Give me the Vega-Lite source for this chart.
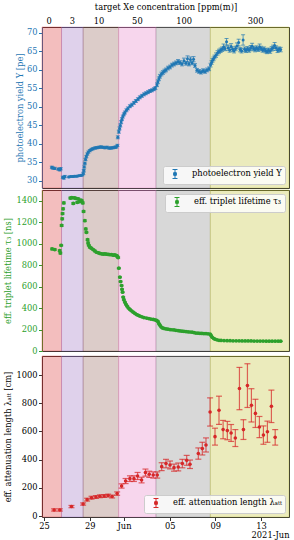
{
"$schema": "https://vega.github.io/schema/vega-lite/v6.json",
"padding": {"left": 3, "right": 4, "top": 2, "bottom": 1},
"spacing": 0,
"config": {
  "font": "DejaVu Serif",
  "view": {"stroke": null},
  "axis": {"zindex": 1, "grid": false, "labelFontSize": 8.3, "titleFontSize": 8.3, "titleFontWeight": "normal", "labelColor": "#000", "titleColor": "#000", "tickColor": "#333", "domainColor": "#333", "tickSize": 3.5, "labelPadding": 1.5, "titlePadding": 3},
  "legend": {"title": null, "offset": 4, "fillColor": "rgba(255,255,255,0.8)", "strokeColor": "#cccccc", "cornerRadius": 2, "padding": 3, "labelFontSize": 8.3, "labelFont": "DejaVu Serif", "labelColor": "#000", "symbolType": "M-0.55,-1H0.55M0,-1V1M-0.55,1H0.55M-0.3,-0.3H0.3V0.3H-0.3Z", "symbolSize": 81, "symbolStrokeWidth": 1, "symbolOffset": 4, "labelOffset": 12}
},
"resolve": {"scale": {"color": "independent"}, "legend": {"color": "independent"}},
"datasets": {
  "bands": [
    {"conc": "0", "start": -0.18, "end": 1.53},
    {"conc": "3", "start": 1.53, "end": 3.42},
    {"conc": "10", "start": 3.42, "end": 6.53},
    {"conc": "50", "start": 6.53, "end": 9.8},
    {"conc": "100", "start": 9.8, "end": 14.56},
    {"conc": "300", "start": 14.56, "end": 21.45}
  ],
  "pe": [
    {"d":0.68,"v":33.7,"e":0.3},{"d":0.76,"v":33.5,"e":0.3},{"d":0.94,"v":33.4,"e":0.3},{"d":1.25,"v":33.2,"e":0.3},{"d":1.38,"v":33.0,"e":0.3},{"d":1.46,"v":33.3,"e":0.3},{"d":1.64,"v":31.0,"e":0.3},{"d":1.73,"v":30.8,"e":0.3},{"d":1.82,"v":31.2,"e":0.3},{"d":2.17,"v":31.1,"e":0.2},{"d":2.34,"v":31.2,"e":0.2},{"d":2.52,"v":31.2,"e":0.2},{"d":2.69,"v":31.3,"e":0.2},{"d":2.87,"v":31.3,"e":0.2},{"d":3.04,"v":31.4,"e":0.2},{"d":3.22,"v":31.5,"e":0.2},{"d":3.35,"v":31.6,"e":0.2},
    {"d":3.44,"v":32.0,"e":0.3},{"d":3.48,"v":32.8,"e":0.3},{"d":3.52,"v":33.8,"e":0.3},{"d":3.57,"v":34.8,"e":0.3},{"d":3.63,"v":35.8,"e":0.3},{"d":3.70,"v":36.6,"e":0.3},{"d":3.79,"v":37.3,"e":0.3},{"d":3.88,"v":37.8,"e":0.3},{"d":4.01,"v":38.2,"e":0.3},{"d":4.14,"v":38.5,"e":0.3},{"d":4.27,"v":38.7,"e":0.3},{"d":4.45,"v":38.9,"e":0.3},{"d":4.62,"v":39.0,"e":0.3},{"d":4.80,"v":39.1,"e":0.3},{"d":4.97,"v":39.2,"e":0.3},{"d":5.15,"v":39.1,"e":0.3},{"d":5.33,"v":39.0,"e":0.3},{"d":5.50,"v":39.1,"e":0.3},{"d":5.68,"v":38.9,"e":0.3},{"d":5.85,"v":38.9,"e":0.3},{"d":6.03,"v":39.0,"e":0.3},{"d":6.20,"v":39.1,"e":0.3},{"d":6.33,"v":39.2,"e":0.3},{"d":6.42,"v":39.6,"e":0.3},
    {"d":6.46,"v":41.8,"e":0.4},{"d":6.55,"v":43.3,"e":0.4},{"d":6.61,"v":44.2,"e":0.4},{"d":6.68,"v":45.0,"e":0.4},{"d":6.75,"v":45.9,"e":0.4},{"d":6.82,"v":46.7,"e":0.4},{"d":6.90,"v":47.4,"e":0.4},{"d":6.99,"v":48.0,"e":0.4},{"d":7.08,"v":48.5,"e":0.4},{"d":7.21,"v":49.1,"e":0.4},{"d":7.34,"v":49.6,"e":0.4},{"d":7.52,"v":50.2,"e":0.4},{"d":7.69,"v":50.6,"e":0.4},{"d":7.87,"v":51.1,"e":0.4},{"d":8.04,"v":51.6,"e":0.4},{"d":8.22,"v":52.1,"e":0.4},{"d":8.39,"v":52.6,"e":0.4},{"d":8.57,"v":53.0,"e":0.4},{"d":8.75,"v":53.4,"e":0.4},{"d":8.92,"v":53.7,"e":0.4},{"d":9.10,"v":54.0,"e":0.4},{"d":9.27,"v":54.3,"e":0.4},{"d":9.45,"v":54.5,"e":0.4},{"d":9.62,"v":54.8,"e":0.4},{"d":9.75,"v":55.1,"e":0.4},
    {"d":9.89,"v":56.0,"e":0.5},{"d":9.97,"v":56.8,"e":0.5},{"d":10.06,"v":57.6,"e":0.5},{"d":10.15,"v":58.3,"e":0.5},{"d":10.28,"v":58.9,"e":0.5},{"d":10.41,"v":59.3,"e":0.5},{"d":10.54,"v":59.7,"e":0.5},{"d":10.68,"v":60.0,"e":0.5},{"d":10.85,"v":60.5,"e":0.5},{"d":11.03,"v":60.8,"e":0.5},{"d":11.20,"v":61.3,"e":0.5},{"d":11.38,"v":61.6,"e":0.5},{"d":11.55,"v":61.9,"e":0.5},{"d":11.73,"v":62.2,"e":0.6},{"d":11.90,"v":62.0,"e":0.5},{"d":12.08,"v":61.6,"e":0.5},{"d":12.25,"v":62.5,"e":0.7},{"d":12.43,"v":61.8,"e":0.5},{"d":12.56,"v":63.0,"e":0.8},{"d":12.69,"v":61.6,"e":0.5},{"d":12.82,"v":62.8,"e":0.7},{"d":12.96,"v":61.9,"e":0.5},{"d":13.09,"v":62.9,"e":0.7},{"d":13.22,"v":61.2,"e":0.5},{"d":13.39,"v":59.9,"e":0.5},{"d":13.57,"v":59.6,"e":0.5},{"d":13.75,"v":59.4,"e":0.5},{"d":13.92,"v":59.8,"e":0.5},{"d":14.10,"v":59.6,"e":0.5},{"d":14.27,"v":60.0,"e":0.5},{"d":14.45,"v":60.3,"e":0.5},
    {"d":14.58,"v":61.3,"e":0.5},{"d":14.67,"v":62.0,"e":0.5},{"d":14.75,"v":62.6,"e":0.5},{"d":14.84,"v":63.0,"e":0.5},{"d":14.93,"v":63.5,"e":0.5},{"d":15.06,"v":64.0,"e":0.6},{"d":15.19,"v":64.6,"e":0.6},{"d":15.32,"v":65.0,"e":0.6},{"d":15.46,"v":65.3,"e":0.6},{"d":15.59,"v":65.6,"e":0.6},{"d":15.72,"v":66.2,"e":0.8},{"d":15.85,"v":65.8,"e":0.6},{"d":15.98,"v":67.6,"e":0.9},{"d":16.12,"v":66.0,"e":0.7},{"d":16.25,"v":65.4,"e":0.6},{"d":16.38,"v":66.3,"e":0.8},{"d":16.51,"v":65.6,"e":0.6},{"d":16.64,"v":65.2,"e":0.6},{"d":16.77,"v":65.8,"e":0.6},{"d":16.90,"v":66.5,"e":0.8},{"d":17.04,"v":67.4,"e":0.9},{"d":17.17,"v":65.5,"e":0.6},{"d":17.30,"v":65.2,"e":0.6},{"d":17.43,"v":68.1,"e":1.4},{"d":17.56,"v":65.6,"e":0.6},{"d":17.69,"v":65.3,"e":0.6},{"d":17.82,"v":65.7,"e":0.6},{"d":17.96,"v":65.4,"e":0.6},{"d":18.09,"v":65.9,"e":0.7},{"d":18.22,"v":66.4,"e":0.8},{"d":18.35,"v":65.8,"e":0.6},{"d":18.48,"v":65.5,"e":0.6},{"d":18.61,"v":65.9,"e":0.6},{"d":18.75,"v":65.6,"e":0.6},{"d":18.88,"v":66.2,"e":0.8},{"d":19.01,"v":65.8,"e":0.6},{"d":19.14,"v":65.4,"e":0.6},{"d":19.27,"v":65.6,"e":0.6},{"d":19.40,"v":65.2,"e":0.6},{"d":19.53,"v":65.0,"e":0.6},{"d":19.66,"v":65.3,"e":0.6},{"d":19.80,"v":65.1,"e":0.6},{"d":19.93,"v":65.7,"e":0.6},{"d":20.06,"v":66.0,"e":0.7},{"d":20.19,"v":66.6,"e":0.8},{"d":20.32,"v":65.9,"e":0.6},{"d":20.45,"v":65.3,"e":0.6},{"d":20.58,"v":65.6,"e":0.6},{"d":20.72,"v":65.5,"e":0.6}
  ],
  "tau": [
    {"d":0.70,"v":951,"e":8},{"d":0.94,"v":945,"e":8},{"d":1.37,"v":935,"e":8},{"d":1.43,"v":912,"e":8},{"d":1.50,"v":985,"e":8},{"d":1.54,"v":1170,"e":9},{"d":1.59,"v":1232,"e":9},{"d":1.62,"v":1280,"e":9},{"d":1.67,"v":1325,"e":9},{"d":1.73,"v":1380,"e":9},
    {"d":2.30,"v":1425,"e":9},{"d":2.43,"v":1428,"e":9},{"d":2.56,"v":1375,"e":9},{"d":2.65,"v":1427,"e":9},{"d":2.78,"v":1422,"e":9},{"d":2.91,"v":1385,"e":9},{"d":2.99,"v":1418,"e":9},{"d":3.13,"v":1392,"e":9},{"d":3.22,"v":1405,"e":9},{"d":3.31,"v":1398,"e":9},{"d":3.39,"v":1380,"e":9},
    {"d":3.46,"v":1300,"e":8},{"d":3.57,"v":1214,"e":8},{"d":3.65,"v":1137,"e":8},{"d":3.71,"v":1106,"e":8},{"d":3.81,"v":1037,"e":8},{"d":3.86,"v":1007,"e":8},{"d":3.92,"v":985,"e":7},{"d":4.01,"v":967,"e":7},{"d":4.14,"v":958,"e":7},{"d":4.30,"v":945,"e":7},{"d":4.45,"v":932,"e":7},{"d":4.60,"v":920,"e":7},{"d":4.75,"v":915,"e":7},{"d":4.89,"v":910,"e":7},{"d":5.04,"v":905,"e":7},{"d":5.19,"v":903,"e":7},{"d":5.32,"v":905,"e":7},{"d":5.47,"v":902,"e":7},{"d":5.63,"v":900,"e":7},{"d":5.76,"v":898,"e":7},{"d":5.91,"v":897,"e":7},{"d":6.07,"v":893,"e":7},{"d":6.20,"v":895,"e":7},{"d":6.35,"v":889,"e":7},{"d":6.42,"v":880,"e":7},{"d":6.49,"v":870,"e":7},
    {"d":6.55,"v":772,"e":6},{"d":6.64,"v":688,"e":6},{"d":6.70,"v":647,"e":6},{"d":6.79,"v":610,"e":6},{"d":6.83,"v":575,"e":6},{"d":6.88,"v":548,"e":5},{"d":6.93,"v":502,"e":5},{"d":6.99,"v":478,"e":5},{"d":7.08,"v":455,"e":5},{"d":7.17,"v":435,"e":5},{"d":7.28,"v":418,"e":5},{"d":7.39,"v":400,"e":5},{"d":7.52,"v":387,"e":5},{"d":7.65,"v":375,"e":5},{"d":7.81,"v":362,"e":4},{"d":7.96,"v":350,"e":4},{"d":8.11,"v":340,"e":4},{"d":8.26,"v":332,"e":4},{"d":8.39,"v":325,"e":4},{"d":8.57,"v":318,"e":4},{"d":8.75,"v":312,"e":4},{"d":8.98,"v":307,"e":4},{"d":9.18,"v":302,"e":4},{"d":9.36,"v":298,"e":4},{"d":9.56,"v":294,"e":4},{"d":9.71,"v":290,"e":4},{"d":9.85,"v":285,"e":4},
    {"d":9.97,"v":275,"e":4},{"d":10.06,"v":255,"e":3},{"d":10.15,"v":240,"e":3},{"d":10.25,"v":225,"e":3},{"d":10.37,"v":215,"e":3},{"d":10.50,"v":210,"e":3},{"d":10.68,"v":206,"e":3},{"d":10.85,"v":203,"e":3},{"d":11.03,"v":200,"e":3},{"d":11.20,"v":198,"e":3},{"d":11.38,"v":196,"e":3},{"d":11.55,"v":193,"e":3},{"d":11.73,"v":190,"e":3},{"d":11.90,"v":187,"e":3},{"d":12.08,"v":185,"e":3},{"d":12.25,"v":183,"e":3},{"d":12.43,"v":181,"e":3},{"d":12.61,"v":179,"e":3},{"d":12.78,"v":177,"e":3},{"d":12.96,"v":175,"e":3},{"d":13.13,"v":172,"e":3},{"d":13.30,"v":167,"e":3},{"d":13.48,"v":166,"e":3},{"d":13.65,"v":165,"e":3},{"d":13.82,"v":164,"e":3},{"d":14.00,"v":163,"e":3},{"d":14.18,"v":162,"e":3},{"d":14.36,"v":160,"e":3},{"d":14.54,"v":158,"e":3},
    {"d":14.62,"v":145,"e":2},{"d":14.71,"v":130,"e":2},{"d":14.84,"v":118,"e":2},{"d":14.97,"v":110,"e":2},{"d":15.15,"v":104,"e":2},{"d":15.32,"v":100,"e":2},{"d":15.50,"v":98,"e":2},{"d":15.76,"v":97,"e":2},{"d":16.03,"v":96,"e":2},{"d":16.29,"v":96,"e":2},{"d":16.55,"v":95,"e":2},{"d":16.82,"v":95,"e":2},{"d":17.08,"v":95,"e":2},{"d":17.34,"v":94,"e":2},{"d":17.61,"v":94,"e":2},{"d":17.87,"v":94,"e":2},{"d":18.13,"v":94,"e":2},{"d":18.39,"v":93,"e":2},{"d":18.66,"v":93,"e":2},{"d":18.92,"v":93,"e":2},{"d":19.18,"v":93,"e":2},{"d":19.45,"v":92,"e":2},{"d":19.71,"v":92,"e":2},{"d":19.97,"v":92,"e":2},{"d":20.24,"v":92,"e":2},{"d":20.50,"v":91,"e":2},{"d":20.72,"v":91,"e":2}
  ],
  "att": [
    {"d":0.88,"v":43,"e":8},{"d":1.38,"v":43,"e":8},{"d":2.40,"v":67,"e":8},{"d":3.42,"v":85,"e":8},{"d":3.77,"v":116,"e":10},{"d":4.16,"v":130,"e":10},{"d":4.54,"v":135,"e":10},{"d":4.89,"v":140,"e":10},{"d":5.26,"v":142,"e":10},{"d":5.61,"v":145,"e":10},{"d":5.96,"v":138,"e":10},{"d":6.40,"v":159,"e":12},
    {"d":6.79,"v":213,"e":15},{"d":7.14,"v":248,"e":18},{"d":7.52,"v":265,"e":20},{"d":7.87,"v":265,"e":20},{"d":8.19,"v":284,"e":25},{"d":8.54,"v":255,"e":20},{"d":8.88,"v":308,"e":25},{"d":9.21,"v":296,"e":22},{"d":9.56,"v":291,"e":22},{"d":9.91,"v":291,"e":22},
    {"d":10.30,"v":350,"e":28},{"d":10.68,"v":372,"e":30},{"d":11.03,"v":362,"e":28},{"d":11.38,"v":343,"e":25},{"d":11.75,"v":348,"e":28},{"d":12.11,"v":372,"e":30},{"d":12.49,"v":395,"e":35},{"d":12.78,"v":367,"e":30},{"d":13.51,"v":443,"e":40},{"d":13.86,"v":478,"e":45},{"d":14.18,"v":504,"e":50},
    {"d":14.54,"v":738,"e":100},{"d":14.97,"v":563,"e":60},{"d":15.32,"v":750,"e":100},{"d":15.68,"v":613,"e":65},{"d":16.05,"v":606,"e":65},{"d":16.38,"v":589,"e":60},{"d":16.75,"v":553,"e":60},{"d":17.11,"v":904,"e":150},{"d":17.46,"v":613,"e":70},{"d":17.81,"v":925,"e":155},{"d":18.16,"v":785,"e":118},{"d":18.51,"v":728,"e":100},{"d":18.86,"v":631,"e":75},{"d":19.21,"v":574,"e":65},{"d":19.56,"v":598,"e":75},{"d":19.91,"v":778,"e":115},{"d":20.24,"v":558,"e":55}
  ]
},
"vconcat": [
  {
    "width": 247, "height": 161,
    "resolve": {"axis": {"x": "independent", "y": "independent"}},
    "layer": [
      {"data": {"name": "bands"}, "mark": {"type": "rect", "fillOpacity": 0.3, "strokeOpacity": 0.3, "strokeWidth": 1},
       "encoding": {
         "x": {"field": "start", "type": "quantitative", "scale": {"domain": [-0.18, 21.45], "nice": false, "zero": false},
               "axis": {"orient": "top", "values": [0.41, 2.43, 4.77, 8.13, 12.23, 18.48], "labelExpr": "datum.value < 1 ? '0' : datum.value < 3 ? '3' : datum.value < 6 ? '10' : datum.value < 10 ? '50' : datum.value < 15 ? '100' : '300'", "ticks": false, "labelPadding": 2, "title": "target Xe concentration [ppm(m)]", "titlePadding": 5}},
         "x2": {"field": "end"},
         "fill": {"field": "conc", "type": "nominal", "scale": {"domain": ["0","3","10","50","100","300"], "range": ["#d62728","#9467bd","#8c564b","#e377c2","#7f7f7f","#bcbd22"]}, "legend": null},
         "stroke": {"field": "conc", "type": "nominal", "scale": {"domain": ["0","3","10","50","100","300"], "range": ["#d62728","#9467bd","#8c564b","#e377c2","#7f7f7f","#bcbd22"]}, "legend": null}
       }},
      {"data": {"name": "pe"}, "mark": {"type": "errorbar", "ticks": true, "size": 4, "thickness": 1, "color": "#1f77b4", "opacity": 0.7},
       "encoding": {
         "x": {"field": "d", "type": "quantitative", "axis": null},
         "y": {"field": "v", "type": "quantitative", "scale": {"domain": [28.1, 71.6], "nice": false, "zero": false}, "axis": {"orient": "right", "labels": false, "ticks": false, "title": null}},
         "yError": {"field": "e"}
       }},
      {"data": {"name": "pe"}, "mark": {"type": "point", "filled": true, "shape": "circle", "size": 9, "opacity": 1},
       "encoding": {
         "x": {"field": "d", "type": "quantitative", "axis": {"orient": "bottom", "labels": false, "ticks": false, "title": null}},
         "y": {"field": "v", "type": "quantitative", "scale": {"domain": [28.1, 71.6], "nice": false, "zero": false}, "axis": {"orient": "left", "values": [30,35,40,45,50,55,60,65,70], "format": "d", "minExtent": 15, "maxExtent": 15, "title": "photoelectron yield Y [pe]", "labelColor": "#1f77b4", "titleColor": "#1f77b4", "tickColor": "#1f77b4", "domainColor": "#1f77b4"}},
         "color": {"datum": "photoelectron yield Y", "type": "nominal", "scale": {"domain": ["photoelectron yield Y"], "range": ["#1f77b4"]}, "legend": {"orient": "bottom-right", "symbolFillColor": "#1f77b4", "symbolStrokeColor": "#1f77b4"}}
       }}
    ]
  },
  {
    "width": 247, "height": 161,
    "resolve": {"axis": {"x": "independent", "y": "independent"}},
    "layer": [
      {"data": {"name": "bands"}, "mark": {"type": "rect", "fillOpacity": 0.3, "strokeOpacity": 0.3, "strokeWidth": 1},
       "encoding": {
         "x": {"field": "start", "type": "quantitative", "scale": {"domain": [-0.18, 21.45], "nice": false, "zero": false},
               "axis": {"orient": "top", "labels": false, "ticks": false, "title": null}},
         "x2": {"field": "end"},
         "fill": {"field": "conc", "type": "nominal", "scale": {"domain": ["0","3","10","50","100","300"], "range": ["#d62728","#9467bd","#8c564b","#e377c2","#7f7f7f","#bcbd22"]}, "legend": null},
         "stroke": {"field": "conc", "type": "nominal", "scale": {"domain": ["0","3","10","50","100","300"], "range": ["#d62728","#9467bd","#8c564b","#e377c2","#7f7f7f","#bcbd22"]}, "legend": null}
       }},
      {"data": {"name": "tau"}, "mark": {"type": "errorbar", "ticks": true, "size": 4, "thickness": 1, "color": "#2ca02c", "opacity": 0.7},
       "encoding": {
         "x": {"field": "d", "type": "quantitative", "axis": null},
         "y": {"field": "v", "type": "quantitative", "scale": {"domain": [0, 1500], "nice": false, "zero": false}, "axis": {"orient": "right", "labels": false, "ticks": false, "title": null}},
         "yError": {"field": "e"}
       }},
      {"data": {"name": "tau"}, "mark": {"type": "point", "filled": true, "shape": "circle", "size": 14, "opacity": 1},
       "encoding": {
         "x": {"field": "d", "type": "quantitative", "axis": {"orient": "bottom", "labels": false, "ticks": false, "title": null}},
         "y": {"field": "v", "type": "quantitative", "scale": {"domain": [0, 1500], "nice": false, "zero": false}, "axis": {"orient": "left", "values": [0,200,400,600,800,1000,1200,1400], "format": "d", "title": "eff. triplet lifetime τ₃ [ns]", "labelColor": "#2ca02c", "titleColor": "#2ca02c", "tickColor": "#2ca02c", "domainColor": "#2ca02c"}},
         "color": {"datum": "eff. triplet lifetime τ₃", "type": "nominal", "scale": {"domain": ["eff. triplet lifetime τ₃"], "range": ["#2ca02c"]}, "legend": {"orient": "top-right", "symbolFillColor": "#2ca02c", "symbolStrokeColor": "#2ca02c"}}
       }}
    ]
  },
  {
    "width": 247, "height": 161,
    "resolve": {"axis": {"x": "independent", "y": "independent"}},
    "layer": [
      {"data": {"name": "bands"}, "mark": {"type": "rect", "fillOpacity": 0.3, "strokeOpacity": 0.3, "strokeWidth": 1},
       "encoding": {
         "x": {"field": "start", "type": "quantitative", "scale": {"domain": [-0.18, 21.45], "nice": false, "zero": false},
               "axis": {"orient": "top", "labels": false, "ticks": false, "title": null}},
         "x2": {"field": "end"},
         "fill": {"field": "conc", "type": "nominal", "scale": {"domain": ["0","3","10","50","100","300"], "range": ["#d62728","#9467bd","#8c564b","#e377c2","#7f7f7f","#bcbd22"]}, "legend": null},
         "stroke": {"field": "conc", "type": "nominal", "scale": {"domain": ["0","3","10","50","100","300"], "range": ["#d62728","#9467bd","#8c564b","#e377c2","#7f7f7f","#bcbd22"]}, "legend": null}
       }},
      {"data": {"name": "att"}, "mark": {"type": "errorbar", "ticks": true, "size": 6, "thickness": 1.2, "color": "#d62728", "opacity": 0.7},
       "encoding": {
         "x": {"field": "d", "type": "quantitative", "axis": null},
         "y": {"field": "v", "type": "quantitative", "scale": {"domain": [-7, 1135], "nice": false, "zero": false}, "axis": {"orient": "right", "labels": false, "ticks": false, "title": null}},
         "yError": {"field": "e"}
       }},
      {"data": {"name": "att"}, "mark": {"type": "point", "filled": true, "shape": "circle", "size": 13, "opacity": 1},
       "encoding": {
         "x": {"field": "d", "type": "quantitative", "axis": {"orient": "bottom", "values": [0, 4, 7, 11, 15, 19], "labelExpr": "datum.value == 0 ? '25' : datum.value == 4 ? '29' : datum.value == 7 ? 'Jun' : datum.value == 11 ? '05' : datum.value == 15 ? '09' : '13'", "labelPadding": 1, "title": "2021-Jun", "titleAnchor": "end", "titlePadding": 1}},
         "y": {"field": "v", "type": "quantitative", "scale": {"domain": [-7, 1135], "nice": false, "zero": false}, "axis": {"orient": "left", "values": [0,200,400,600,800,1000], "format": "d", "title": "eff. attenuation length λₐₜₜ [cm]"}},
         "color": {"datum": "eff. attenuation length λₐₜₜ", "type": "nominal", "scale": {"domain": ["eff. attenuation length λₐₜₜ"], "range": ["#d62728"]}, "legend": {"orient": "bottom-right", "symbolFillColor": "#d62728", "symbolStrokeColor": "#d62728"}}
       }}
    ]
  }
]
}
